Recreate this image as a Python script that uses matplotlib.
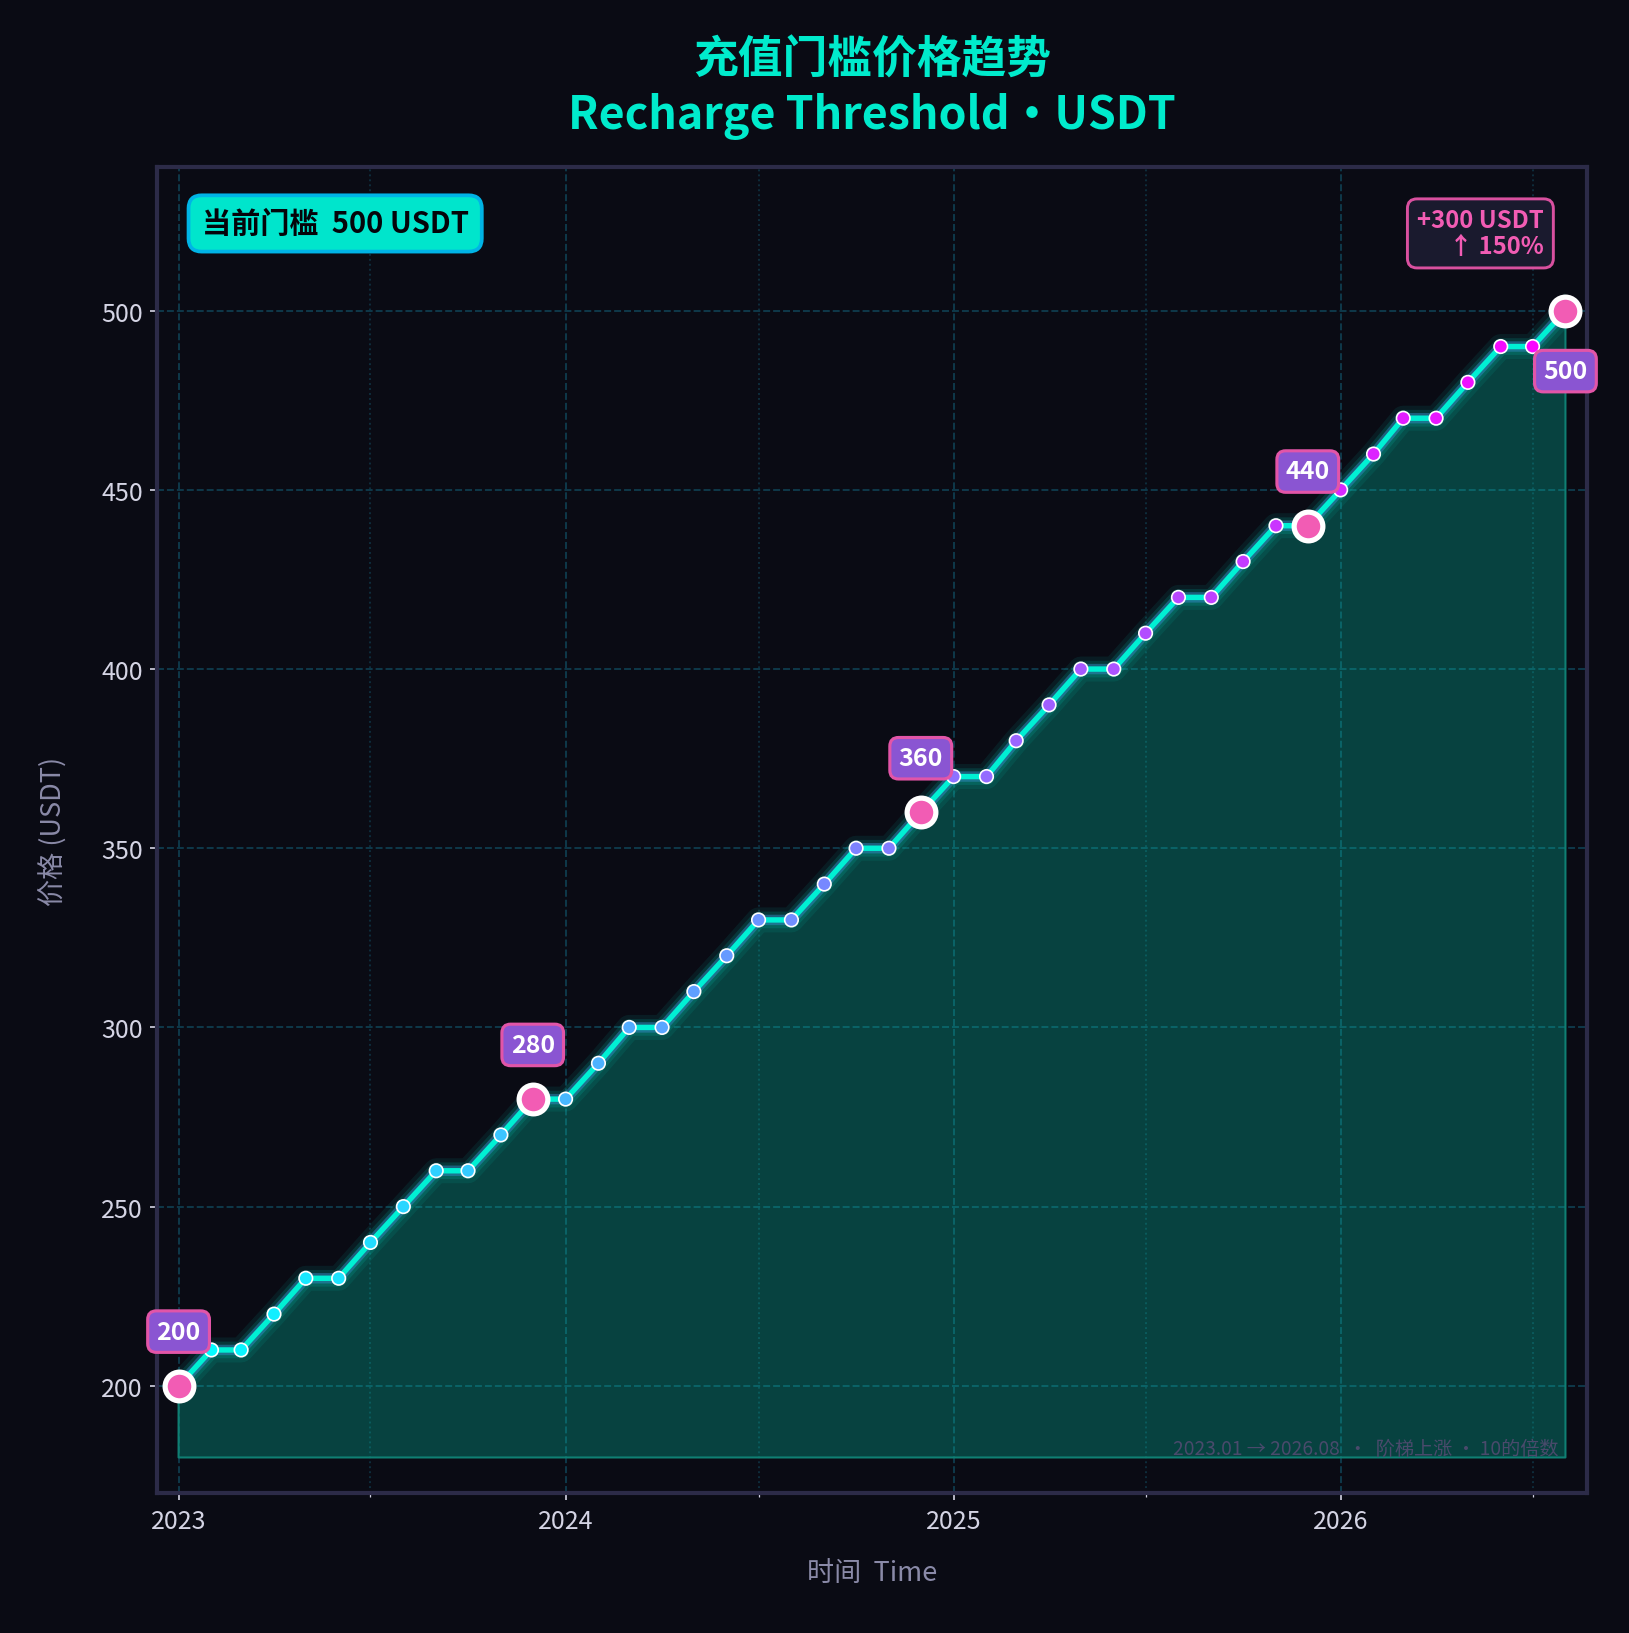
import pandas as pd
import matplotlib.pyplot as plt
import matplotlib.dates as mdates
import numpy as np

plt.rcParams['font.family'] = ['Noto Sans CJK SC', 'DejaVu Sans']

# 数据：每月门槛价格 (USDT)
months = pd.date_range('2023-01-01', periods=44, freq='MS')
prices = [200, 210, 210, 220, 230, 230, 240, 250, 260, 260, 270, 280,
          280, 290, 300, 300, 310, 320, 330, 330, 340, 350, 350, 360,
          370, 370, 380, 390, 400, 400, 410, 420, 420, 430, 440, 440,
          450, 460, 470, 470, 480, 490, 490, 500]
key_months = ['2023-01-01', '2023-12-01', '2024-12-01', '2025-12-01', '2026-08-01']
key_prices = [200, 280, 360, 440, 500]

BG = '#0a0b14'
CYAN = '#00f0d4'
PINK = '#f25cb4'

fig = plt.figure(figsize=(10.86, 10.893), facecolor=BG)
ax = fig.add_axes([0.0966, 0.0855, 0.8774, 0.8115])
ax.set_facecolor(BG)

# 面积
ax.fill_between(months, prices, 180, color='#00d4b4', alpha=0.28, lw=0, zorder=1)
ax.fill_between(months, prices, 180, facecolor='none', edgecolor='#0f7f73', lw=1, zorder=1)

# 发光线
ax.plot(months, prices, color=CYAN, lw=12, alpha=0.08, solid_joinstyle='round', zorder=2)
ax.plot(months, prices, color=CYAN, lw=8, alpha=0.13, solid_joinstyle='round', zorder=2)
ax.plot(months, prices, color='#3a8fd0', lw=5, alpha=0.45, solid_joinstyle='round', zorder=3)
ax.plot(months, prices, color=CYAN, lw=2.6, solid_joinstyle='round', zorder=4)

# 渐变点
cols = plt.cm.cool(np.linspace(0, 1, len(prices)))
ax.scatter(months, prices, s=42, c=cols, edgecolors='white', linewidths=0.8, zorder=5)

# 关键点
kd = pd.to_datetime(key_months)
ax.scatter(kd, key_prices, s=190, c=PINK, edgecolors='white', linewidths=2.5, zorder=6)
for d, p in zip(kd, key_prices):
    off = -29 if p == key_prices[-1] else 26
    ax.annotate(f'{p}', (d, p), xytext=(0, off), textcoords='offset points',
                ha='center', va='center', fontsize=12, fontweight='bold', color='white',
                bbox=dict(boxstyle='round,pad=0.35', fc='#8a55d2', ec='#e255a8', lw=1.5),
                zorder=7)

ax.set_xlim(pd.Timestamp('2022-12-12'), pd.Timestamp('2026-08-21'))
ax.set_ylim(170, 540)
ax.set_yticks([200, 250, 300, 350, 400, 450, 500])

ax.xaxis.set_major_locator(mdates.YearLocator())
ax.xaxis.set_major_formatter(mdates.DateFormatter('%Y'))
ax.xaxis.set_minor_locator(mdates.MonthLocator(bymonth=7))

ax.grid(True, which='major', color='#0f3a4c', ls='--', lw=0.9)
ax.grid(True, which='minor', axis='x', color='#0f2f3e', ls=':', lw=0.9)
ax.set_axisbelow(True)

ax.tick_params(colors='#d4d4e4', labelsize=12)
ax.tick_params(which='minor', colors='#d4d4e4', length=2)
for s in ax.spines.values():
    s.set_color('#2c2b48')
    s.set_linewidth(2)

ax.set_xlabel('时间  Time', fontsize=13, color='#8a8aa8', labelpad=12)
ax.set_ylabel('价格 (USDT)', fontsize=13, color='#8a8aa8', labelpad=16)
ax.set_title('充值门槛价格趋势\nRecharge Threshold・USDT', fontsize=21.5, fontweight='bold',
             color='#00ebcc', pad=19, linespacing=1.25)

ax.text(0.031, 0.969, '当前门槛  500 USDT', transform=ax.transAxes, ha='left', va='top',
        fontsize=14, fontweight='bold', color='#05050a',
        bbox=dict(boxstyle='round,pad=0.45', fc='#00e5cc', ec='#00b4e6', lw=1.8), zorder=8)

ax.text(0.97, 0.969, '+300 USDT\n↑ 150%', transform=ax.transAxes, ha='right', va='top',
        fontsize=11.5, fontweight='bold', color='#f25cb4', linespacing=1.1,
        bbox=dict(boxstyle='round,pad=0.4', fc='#1a1a2e', ec='#d9509f', lw=1.4), zorder=8)

ax.text(0.98, 0.034, '2023.01 → 2026.08  ·  阶梯上涨 · 10的倍数', transform=ax.transAxes,
        ha='right', va='center', fontsize=9.2, color='#4a4a6c', zorder=8)

fig.savefig('out.png', dpi=150, facecolor=BG)
